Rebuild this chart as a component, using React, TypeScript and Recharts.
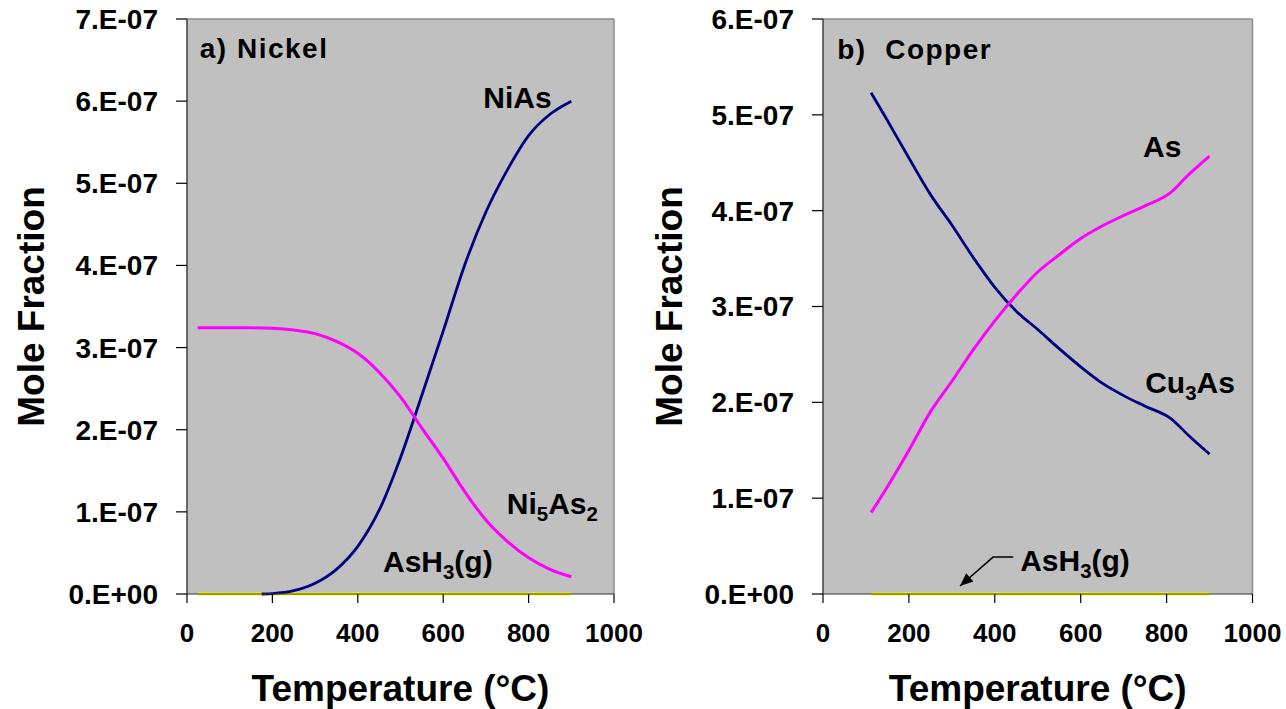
import { CartesianGrid, Line, LineChart, ReferenceDot, ReferenceLine, XAxis, YAxis } from 'recharts';

const FONT = '"Liberation Sans", Arial, sans-serif';

const xTicks = [0, 200, 400, 600, 800, 1000];

// a) Nickel
const nickelYTicks = [0, 1e-7, 2e-7, 3e-7, 4e-7, 5e-7, 6e-7, 7e-7];
const nickelYLabels = ['0.E+00', '1.E-07', '2.E-07', '3.E-07', '4.E-07', '5.E-07', '6.E-07', '7.E-07'];

const niAsTemps = [175, 200, 250, 300, 350, 400, 450, 500, 550, 600, 650, 700, 750, 800, 850, 900];
const niAsValues = [
  0, 5e-10, 4e-9, 1.3e-8, 3.0e-8, 5.8e-8, 1.02e-7, 1.66e-7, 2.42e-7, 3.2e-7, 4.0e-7, 4.65e-7, 5.16e-7,
  5.58e-7, 5.84e-7, 6.0e-7,
];

const ni5As2Temps = [25, 100, 150, 200, 250, 300, 350, 400, 450, 500, 550, 600, 650, 700, 750, 800, 850, 900];
const ni5As2Values = [
  3.24e-7, 3.24e-7, 3.24e-7, 3.235e-7, 3.215e-7, 3.17e-7, 3.075e-7, 2.93e-7, 2.7e-7, 2.4e-7, 2.02e-7, 1.65e-7,
  1.25e-7, 0.9e-7, 0.64e-7, 0.44e-7, 0.3e-7, 0.21e-7,
];

const nickelAsH3Temps = [25, 900];
const nickelAsH3Values = [0, 0];

// b) Copper
const copperYTicks = [0, 1e-7, 2e-7, 3e-7, 4e-7, 5e-7, 6e-7];
const copperYLabels = ['0.E+00', '1.E-07', '2.E-07', '3.E-07', '4.E-07', '5.E-07', '6.E-07'];

const copperTemps = [112, 150, 200, 250, 300, 350, 400, 450, 500, 550, 600, 650, 700, 750, 810, 850, 900];
const cu3AsValues = [
  5.23e-7, 4.94e-7, 4.55e-7, 4.17e-7, 3.85e-7, 3.51e-7, 3.2e-7, 2.95e-7, 2.76e-7, 2.56e-7, 2.37e-7, 2.2e-7,
  2.07e-7, 1.96e-7, 1.83e-7, 1.66e-7, 1.46e-7,
];
const asValues = [
  0.85e-7, 1.12e-7, 1.5e-7, 1.9e-7, 2.22e-7, 2.55e-7, 2.85e-7, 3.12e-7, 3.36e-7, 3.54e-7, 3.71e-7, 3.84e-7,
  3.95e-7, 4.05e-7, 4.19e-7, 4.37e-7, 4.57e-7,
];

const copperAsH3Temps = [112, 900];
const copperAsH3Values = [0, 0];

// arrow pointing at the AsH3 line in panel b
const arrowTemps = [443, 396, 319];
const arrowValues = [0.385e-7, 0.385e-7, 0.083e-7];

const zip = (temps: number[], values: number[]) => temps.map((t, i) => ({ t, v: values[i] }));

type Seg = { text: string; sub?: boolean };

function chemShape(segs: Seg[], size: number, extra?: object) {
  return (p: any) => (
    <text
      x={p.cx}
      y={p.cy}
      fontFamily={FONT}
      fontWeight="bold"
      fontSize={size}
      fill="#000"
      style={{ whiteSpace: 'pre' }}
      {...extra}
    >
      {segs.map((s, i) => {
        const prevSub = i > 0 && segs[i - 1].sub;
        const dy = s.sub ? 7 : prevSub ? -7 : 0;
        return (
          <tspan key={i} dy={dy} fontSize={s.sub ? size * 0.68 : size}>
            {s.text}
          </tspan>
        );
      })}
    </text>
  );
}

function YTitle({ viewBox, baseX }: any) {
  const cy = viewBox ? viewBox.y + viewBox.height / 2 : 306;
  return (
    <text
      x={baseX}
      y={cy}
      transform={`rotate(-90 ${baseX} ${cy})`}
      textAnchor="middle"
      fontFamily={FONT}
      fontWeight="bold"
      fontSize={37}
      fill="#000"
    >
      Mole Fraction
    </text>
  );
}

function ArrowHead(p: any) {
  const angle = (Math.atan2(29, -33) * 180) / Math.PI;
  return (
    <polygon
      points="0,0 -13,-5.5 -13,5.5"
      fill="#000"
      transform={`translate(${p.cx} ${p.cy}) rotate(${angle})`}
    />
  );
}

const tickStyle = { fontFamily: FONT, fontWeight: 'bold', fill: '#000' };

type PanelProps = {
  left: number;
  width: number;
  yAxisWidth: number;
  rightMargin: number;
  yTicks: number[];
  yLabels: string[];
  yTitleX: number;
  children: React.ReactNode;
};

function Panel({ left, width, yAxisWidth, rightMargin, yTicks, yLabels, yTitleX, children }: PanelProps) {
  const yMax = yTicks[yTicks.length - 1];
  return (
    <div style={{ position: 'absolute', left, top: 0 }}>
      <LineChart
        width={width}
        height={709}
        margin={{ top: 19, right: rightMargin, left: 0, bottom: 8 }}
        style={{ overflow: 'visible' }}
      >
        <CartesianGrid horizontal={false} vertical={false} fill="#C0C0C0" />
        <XAxis
          dataKey="t"
          type="number"
          domain={[0, 1000]}
          ticks={xTicks}
          allowDuplicatedCategory={false}
          height={107}
          tickSize={9}
          tickMargin={21}
          tick={{ ...tickStyle, fontSize: 26 }}
          axisLine={{ stroke: '#333', strokeWidth: 1 }}
          tickLine={{ stroke: '#000', strokeWidth: 1.2 }}
          label={{
            value: 'Temperature (°C)',
            position: 'insideBottom',
            offset: 0,
            style: { fontFamily: FONT, fontWeight: 'bold', fontSize: 37, fill: '#000' },
          }}
        />
        <YAxis
          dataKey="v"
          type="number"
          domain={[0, yMax]}
          ticks={yTicks}
          width={yAxisWidth}
          tickSize={11}
          tickMargin={18}
          tick={{ ...tickStyle, fontSize: 28 }}
          tickFormatter={(v: number) => yLabels[Math.round(v / 1e-7)]}
          axisLine={{ stroke: '#404040', strokeWidth: 1.5 }}
          tickLine={{ stroke: '#000', strokeWidth: 1.2 }}
          label={<YTitle baseX={yTitleX} />}
        />
        <ReferenceLine y={yMax} stroke="#8c8c8c" strokeWidth={1.5} />
        <ReferenceLine x={1000} stroke="#8c8c8c" strokeWidth={1.5} />
        {children}
      </LineChart>
    </div>
  );
}

export default function App() {
  return (
    <div style={{ position: 'absolute', left: 0, top: 0, width: 1286, height: 709, background: '#fff' }}>
      <Panel
        left={0}
        width={650}
        yAxisWidth={187}
        rightMargin={36}
        yTicks={nickelYTicks}
        yLabels={nickelYLabels}
        yTitleX={44}
      >
        <Line
          data={zip(nickelAsH3Temps, nickelAsH3Values)}
          dataKey="v"
          type="linear"
          stroke="#FFFF00"
          strokeWidth={3}
          dot={false}
          isAnimationActive={false}
        />
        <Line
          data={zip(niAsTemps, niAsValues)}
          dataKey="v"
          type="monotone"
          stroke="#000080"
          strokeWidth={2.8}
          dot={false}
          isAnimationActive={false}
        />
        <Line
          data={zip(ni5As2Temps, ni5As2Values)}
          dataKey="v"
          type="monotone"
          stroke="#FF00FF"
          strokeWidth={3}
          dot={false}
          isAnimationActive={false}
        />
        <ReferenceDot
          x={30}
          y={6.52e-7}
          r={0}
          shape={chemShape([{ text: 'a) Nickel' }], 28, { letterSpacing: 1.5 })}
        />
        <ReferenceDot x={694} y={5.92e-7} r={0} shape={chemShape([{ text: 'NiAs' }], 30)} />
        <ReferenceDot
          x={749}
          y={0.97e-7}
          r={0}
          shape={chemShape(
            [{ text: 'Ni' }, { text: '5', sub: true }, { text: 'As' }, { text: '2', sub: true }],
            30,
          )}
        />
        <ReferenceDot
          x={459}
          y={0.27e-7}
          r={0}
          shape={chemShape([{ text: 'AsH' }, { text: '3', sub: true }, { text: '(g)' }], 30)}
        />
      </Panel>
      <Panel
        left={640}
        width={646}
        yAxisWidth={183}
        rightMargin={33.5}
        yTicks={copperYTicks}
        yLabels={copperYLabels}
        yTitleX={42}
      >
        <Line
          data={zip(copperAsH3Temps, copperAsH3Values)}
          dataKey="v"
          type="linear"
          stroke="#FFFF00"
          strokeWidth={3}
          dot={false}
          isAnimationActive={false}
        />
        <Line
          data={zip(copperTemps, cu3AsValues)}
          dataKey="v"
          type="monotone"
          stroke="#000080"
          strokeWidth={2.8}
          dot={false}
          isAnimationActive={false}
        />
        <Line
          data={zip(copperTemps, asValues)}
          dataKey="v"
          type="monotone"
          stroke="#FF00FF"
          strokeWidth={3}
          dot={false}
          isAnimationActive={false}
        />
        <Line
          data={zip(arrowTemps, arrowValues)}
          dataKey="v"
          type="linear"
          stroke="#000"
          strokeWidth={1.5}
          dot={false}
          isAnimationActive={false}
        />
        <ReferenceDot x={319} y={0.083e-7} r={0} shape={ArrowHead} />
        <ReferenceDot
          x={33}
          y={5.58e-7}
          r={0}
          shape={chemShape([{ text: 'b)  Copper' }], 28, { letterSpacing: 1.5 })}
        />
        <ReferenceDot x={745} y={4.56e-7} r={0} shape={chemShape([{ text: 'As' }], 30)} />
        <ReferenceDot
          x={750}
          y={2.1e-7}
          r={0}
          shape={chemShape([{ text: 'Cu' }, { text: '3', sub: true }, { text: 'As' }], 30)}
        />
        <ReferenceDot
          x={459}
          y={0.24e-7}
          r={0}
          shape={chemShape([{ text: 'AsH' }, { text: '3', sub: true }, { text: '(g)' }], 30)}
        />
      </Panel>
    </div>
  );
}
